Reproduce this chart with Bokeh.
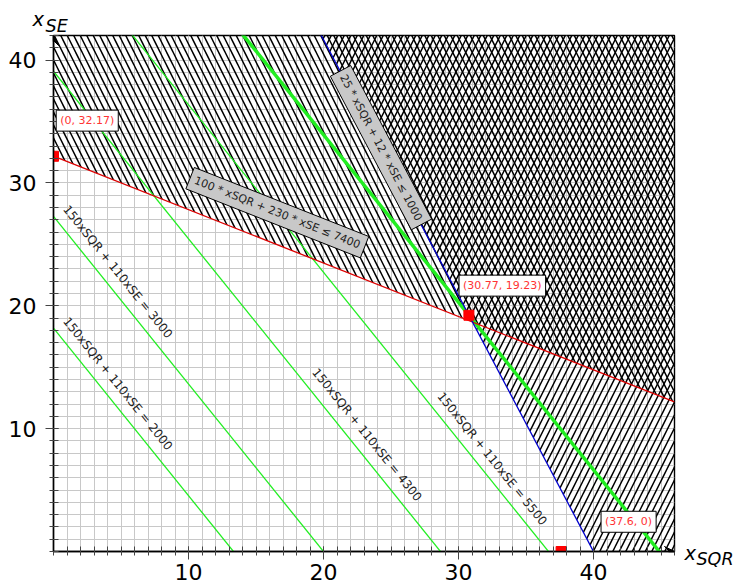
import math

from bokeh.embed import file_html
from bokeh.models import Arrow, FixedTicker, Label, Range1d, VeeHead
from bokeh.plotting import figure
from bokeh.resources import INLINE

# Plot window in data units
X_MAX = 46
Y_MAX = 42

# Constraints: a * xSQR + b * xSE <= c
red_constraint = [100, 230, 7400]
blue_constraint = [25, 12, 1000]

# Objective 150 * xSQR + 110 * xSE and its iso-profit levels
objective = [150, 110]
iso_levels = [2000, 3000, 4300, 5500]

# Corner points of the feasible region
vertex_x = [0, 30.77, 37.6]
vertex_y = [32.17, 19.23, 0]
vertex_text = ["(0, 32.17)", "(30.77, 19.23)", "(37.6, 0)"]
optimum_index = 1

tick_values = [10, 20, 30, 40]

FONT = "DejaVu Sans"
FRAME_LEFT, FRAME_TOP, FRAME_W, FRAME_H = 53, 35, 621, 516

p = figure(
    frame_width=FRAME_W,
    frame_height=FRAME_H,
    min_border_left=FRAME_LEFT,
    min_border_right=65,
    min_border_top=FRAME_TOP,
    min_border_bottom=35,
    x_range=Range1d(0, X_MAX),
    y_range=Range1d(0, Y_MAX),
    output_backend="svg",
    toolbar_location=None,
)
p.background_fill_color = "white"
p.border_fill_color = "white"
p.outline_line_color = "black"
p.outline_line_width = 1.4

# Axes: labelled every 10, one minor tick (and grid line) per unit
x_ticker = FixedTicker(ticks=tick_values, minor_ticks=list(range(0, X_MAX + 1)))
y_ticker = FixedTicker(ticks=tick_values, minor_ticks=list(range(0, Y_MAX + 1)))
p.xaxis.ticker = x_ticker
p.yaxis.ticker = y_ticker
p.xgrid.ticker = x_ticker
p.ygrid.ticker = y_ticker

for ax in (p.xaxis[0], p.yaxis[0]):
    ax.axis_line_color = "black"
    ax.axis_line_width = 1.4
    ax.major_tick_line_color = "#444444"
    ax.minor_tick_line_color = "#444444"
    ax.major_tick_out = 8
    ax.major_tick_in = 5
    ax.minor_tick_out = 4
    ax.minor_tick_in = 5
    ax.major_label_text_font = FONT
    ax.major_label_text_font_size = "22px"
    ax.major_label_text_color = "black"
p.xaxis.major_label_standoff = 4
p.yaxis.major_label_standoff = 9

for g in (p.xgrid[0], p.ygrid[0]):
    g.grid_line_color = "#c8c8c8"
    g.grid_line_width = 1
    g.minor_grid_line_color = "#c8c8c8"
    g.minor_grid_line_width = 1


def line_y(coef, x):
    a, b, c = coef
    return (c - a * x) / b


def line_x(coef, y):
    a, b, c = coef
    return (c - b * y) / a


# Infeasible half-planes, hatched (polygons run past the frame and get clipped)
far = 200
red_xs = [-far, far, far, -far]
red_ys = [line_y(red_constraint, -far), line_y(red_constraint, far), far, far]
p.patch(red_xs, red_ys, fill_alpha=0, line_alpha=0,
        hatch_pattern="\\", hatch_color="black", hatch_scale=13, hatch_weight=1.5)

blue_xs = [line_x(blue_constraint, -far), line_x(blue_constraint, far), far, far]
blue_ys = [-far, far, far, -far]
p.patch(blue_xs, blue_ys, fill_alpha=0, line_alpha=0,
        hatch_pattern="/", hatch_color="black", hatch_scale=13, hatch_weight=1.5)

# Iso-profit lines
a_obj, b_obj = objective
for level in iso_levels:
    p.line([0, X_MAX], [line_y([a_obj, b_obj, level], 0), line_y([a_obj, b_obj, level], X_MAX)],
           line_color="#22ee22", line_width=1.3)

opt_x, opt_y = vertex_x[optimum_index], vertex_y[optimum_index]
opt_level = a_obj * opt_x + b_obj * opt_y
p.line([0, X_MAX], [line_y([a_obj, b_obj, opt_level], 0), line_y([a_obj, b_obj, opt_level], X_MAX)],
       line_color="#22ee22", line_width=3.5)

# Constraint boundaries
p.line([0, X_MAX], [line_y(red_constraint, 0), line_y(red_constraint, X_MAX)],
       line_color="#dd0000", line_width=1.3)
p.line([0, X_MAX], [line_y(blue_constraint, 0), line_y(blue_constraint, X_MAX)],
       line_color="#0000cc", line_width=1.3)

# Corner points
p.scatter(vertex_x, vertex_y, marker="square", size=10, fill_color="#ff0000",
          line_color="#ff0000")

# Screen scale of the data units, used to tilt the labels along the lines
px_x = FRAME_W / X_MAX
px_y = FRAME_H / Y_MAX


def screen_angle(a, b):
    return -math.atan((a / b) * (px_y / px_x))


# Constraint captions in grey boxes
p.add_layout(Label(
    x=16.58, y=27.58, text="100 * xSQR + 230 * xSE \u2264 7400",
    angle=screen_angle(red_constraint[0], red_constraint[1]),
    text_align="center", text_baseline="middle",
    text_font=FONT, text_font_size="11px", text_color="#222222",
    background_fill_color="#c8c8c8", border_line_color="black", border_line_width=1,
    padding=5,
))
p.add_layout(Label(
    x=24.26, y=32.87, text="25 * xSQR + 12 * xSE \u2264 1000",
    angle=screen_angle(blue_constraint[0], blue_constraint[1]),
    text_align="center", text_baseline="middle",
    text_font=FONT, text_font_size="11px", text_color="#222222",
    background_fill_color="#c8c8c8", border_line_color="black", border_line_width=1,
    padding=5,
))

# Iso-profit captions
iso_label_x = [4.76, 4.76, 23.22, 32.49]
iso_label_y = [13.65, 22.77, 9.5, 7.55]
for level, lx, ly in zip(iso_levels, iso_label_x, iso_label_y):
    p.add_layout(Label(
        x=lx, y=ly, text=f"150xSQR + 110xSE = {level}",
        angle=screen_angle(a_obj, b_obj),
        text_align="center", text_baseline="middle",
        text_font=FONT, text_font_size="12px", text_color="#222222",
    ))

# Corner point captions
vertex_label_x = [0.2, 30.04, 40.56]
vertex_label_y = [35.07, 21.64, 2.42]
for txt, lx, ly in zip(vertex_text, vertex_label_x, vertex_label_y):
    p.add_layout(Label(
        x=lx, y=ly, text=txt, text_align="left", text_baseline="middle",
        text_font=FONT, text_font_size="11px", text_color="#ff3333",
        background_fill_color="white", border_line_color="black", border_line_width=1,
        padding=4,
    ))

# Axis arrows
p.add_layout(Arrow(end=VeeHead(size=10, fill_color="black", line_color="black"),
                   x_start=0, y_start=Y_MAX - 1, x_end=0, y_end=Y_MAX,
                   line_color="black", line_width=1.4))
p.add_layout(Arrow(end=VeeHead(size=10, fill_color="black", line_color="black"),
                   x_start=X_MAX - 1, y_start=0, x_end=X_MAX, y_end=0,
                   line_color="black", line_width=1.4))


# Axis names with subscripts; they live in the side panels so the frame
# does not clip them, but are positioned in data units
def axis_name(x, y, text, size, side):
    p.add_layout(Label(x=x, y=y, text=text, text_font=FONT, text_font_style="italic",
                       text_font_size=size, text_color="black",
                       text_baseline="alphabetic", text_align="left"), side)


axis_name(-0.59, 42.81, "SE", "17.5px", "above")
axis_name(-1.56, 43.30, "x", "19.5px", "right")
axis_name(46.74, -0.16, "x", "19.5px", "right")
axis_name(47.63, -0.57, "SQR", "17.5px", "right")

open("out.html", "w").write(file_html(p, INLINE))
